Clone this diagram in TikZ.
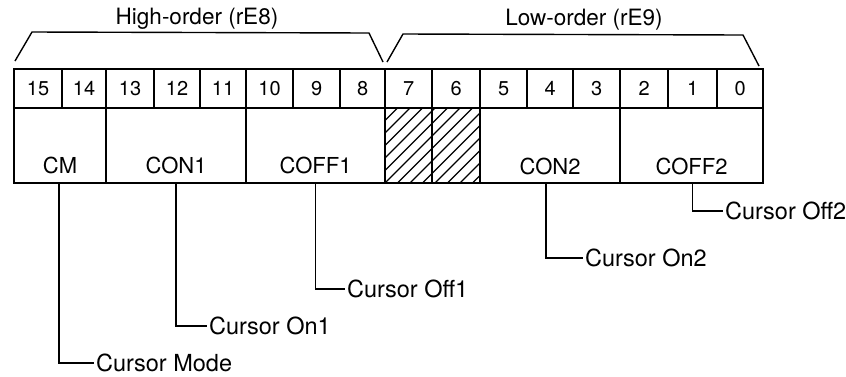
\documentclass[tikz,border=0pt]{standalone}
\usepackage{fontspec}
\setmainfont{TeX Gyre Heros}
\begin{document}
\begin{tikzpicture}[x=1pt,y=-1pt,
  box/.style={draw, line width=2.2pt},
  bitcell/.style={box, minimum height=39pt, inner sep=0pt, anchor=north west, font=\fontsize{20}{23}\selectfont},
  field/.style={box, minimum height=75pt, inner sep=0pt, anchor=north west},
  fieldtext/.style={font=\fontsize{22}{26}\selectfont, inner sep=0pt},
  headtext/.style={font=\fontsize{22.5}{26}\selectfont, inner sep=0pt},
  cursortext/.style={font=\fontsize{23.5}{27}\selectfont, inner sep=0pt, anchor=west},
  conn/.style={line width=1.4pt},
  brace/.style={line width=1.4pt, line join=round},
  hatch/.style={line width=1.1pt}
]
\useasboundingbox (0,0) rectangle (846,376);

% hatching of reserved bits 7 and 6 (drawn first, borders on top)
\begin{scope}
  \clip (384,107) rectangle (479,182);
  \foreach \i in {-8,...,10}{
    \draw[hatch] (384+\i*12.5,184) -- ++(80,-80);
  }
\end{scope}

% bit cells
\foreach \b/\l/\r in {15/13/61,14/61/105,13/105/153,12/153/199,11/199/245,10/245/292,9/292/339,8/339/384,7/384/431,6/431/479,5/479/526,4/526/572,3/572/619,2/619/667,1/667/716,0/716/762}{
  \pgfmathsetmacro\w{\r-\l}
  \node[bitcell, minimum width=\w pt] (b\b) at (\l,68) {\b};
}

% field cells
\node[field, minimum width=92pt]  (cm)    at (13,107)  {};
\node[field, minimum width=140pt] (con1)  at (105,107) {};
\node[field, minimum width=139pt] (coff1) at (245,107) {};
\node[field, minimum width=47pt]  (r7)    at (384,107) {};
\node[field, minimum width=48pt]  (r6)    at (431,107) {};
\node[field, minimum width=140pt] (con2)  at (479,107) {};
\node[field, minimum width=143pt] (coff2) at (619,107) {};

% field labels
\node[fieldtext] (tcm)    at ([yshift=-20pt]cm.center)    {CM};
\node[fieldtext] (tcon1)  at ([yshift=-20pt]con1.center)  {CON1};
\node[fieldtext] (tcoff1) at ([yshift=-20pt]coff1.center) {COFF1};
\node[fieldtext] (tcon2)  at ([yshift=-21pt]con2.center)  {CON2};
\node[fieldtext] (tcoff2) at ([yshift=-21pt]coff2.center) {COFF2};

% header brackets
\draw[brace] (15,61) -- (32,32) -- (369,33) -- (383,62);
\draw[brace] (387,62) -- (403,34) -- (743,35) -- (759,66);
\node[headtext] (hi) at (197,19) {High-order (rE8)};
\node[headtext] (lo) at (584,20) {Low-order (rE9)};

% cursor labels
\node[cursortext] (lcm)    at (96,363)  {Cursor Mode};
\node[cursortext] (lcon1)  at (209,326) {Cursor On1};
\node[cursortext] (lcoff1) at (347,289) {Cursor Off1};
\node[cursortext] (lcon2)  at (585,258) {Cursor On2};
\node[cursortext] (lcoff2) at (725,211) {Cursor Off2};

% connectors
\draw[conn] ([xshift=-1pt]cm.south)    |- ([xshift=-2pt]lcm.west);
\draw[conn] ([xshift=0pt]con1.south)   |- ([xshift=-2pt]lcon1.west);
\draw[conn] ([xshift=0pt]coff1.south)  |- ([xshift=-2pt]lcoff1.west);
\draw[conn] ([xshift=-4pt]con2.south)  |- ([xshift=-2pt]lcon2.west);
\draw[conn] ([xshift=1pt]coff2.south)  |- ([xshift=-2pt]lcoff2.west);
\end{tikzpicture}
\end{document}
